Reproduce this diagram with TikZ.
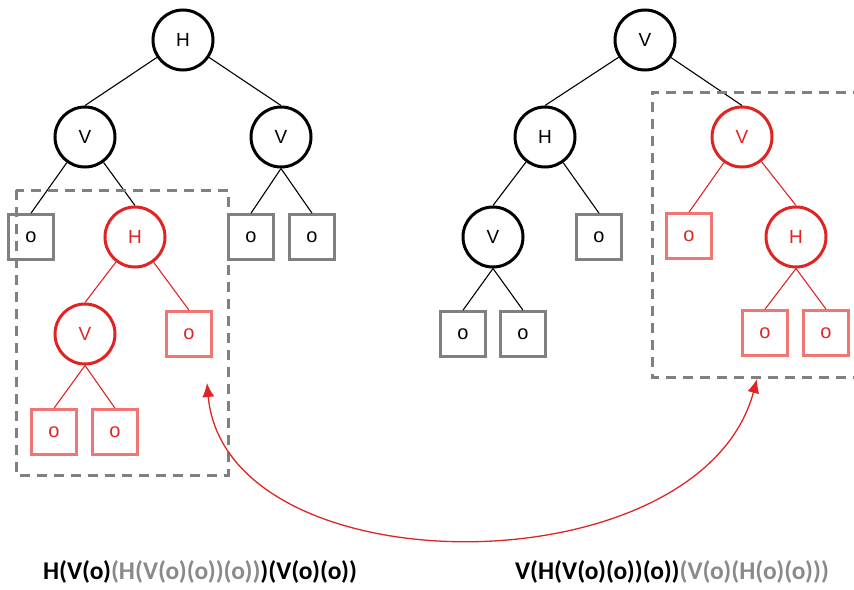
\documentclass[tikz,border=0pt]{standalone}
\usepackage{fontspec}
\setmainfont{Liberation Sans}
\newfontfamily\exprfont{Carlito}
\usepackage{xcolor}
\usepackage{tikz}
\usetikzlibrary{arrows.meta}

\definecolor{cutred}{HTML}{E02424}
\definecolor{leafred}{HTML}{F07575}
\definecolor{boxgray}{HTML}{808080}
\definecolor{txtgray}{HTML}{8A8A8A}

\begin{document}
\begin{tikzpicture}[x=1pt, y=-1pt,
    opnode/.style={circle, draw=black, line width=3pt, minimum size=60pt, inner sep=0pt, font=\fontsize{19}{19}\selectfont},
    redop/.style={opnode, draw=cutred, text=cutred},
    leaf/.style={rectangle, draw=boxgray, line width=2.6pt, minimum size=45pt, inner sep=0pt, font=\fontsize{20}{20}\selectfont},
    redleaf/.style={leaf, draw=leafred, text=cutred},
    edge/.style={line width=1.1pt, draw=black},
    rededge/.style={line width=1.1pt, draw=cutred},
    subtree/.style={draw=boxgray, line width=3pt, dash pattern=on 10pt off 7pt},
    formula/.style={font=\exprfont\bfseries\fontsize{25.5}{25.5}\selectfont}]
                \clip (0,0) rectangle (854,589);
                % left tree
                \node[opnode] (hA) at (183,40) {H};
                \node[opnode] (vA) at (85,137) {V};
                \node[opnode] (vB) at (281,137) {V};
                \node[redop] (hB) at (135,237) {H};
                \node[redop] (vC) at (85,334) {V};
                \foreach \n/\x/\y in {oA/31/237, oB/251/237, oC/312/237}
                \node[leaf] (\n) at (\x,\y) {o};
                \foreach \n/\x/\y in {oD/189/334, oE/54/432, oF/115/432}
                \node[redleaf] (\n) at (\x,\y) {o};
                \draw[edge] (hA) -- (vA.north);
                \draw[edge] (hA) -- (vB.north);
                \draw[edge] (vA) -- (oA.north);
                \draw[edge] (vA) -- (hB.north);
                \draw[edge] (vB.south) -- (oB.north);
                \draw[edge] (vB.south) -- (oC.north);
                \draw[rededge] (hB) -- (vC.north);
                \draw[rededge] (hB) -- (oD.north);
                \draw[rededge] (vC.south) -- (oE.north);
                \draw[rededge] (vC.south) -- (oF.north);
                \draw[subtree] (16,190) rectangle (228,475);
                % right tree
                \node[opnode] (vR) at (645,40) {V};
                \node[opnode] (hR) at (545,137) {H};
                \node[opnode] (vS) at (493,237) {V};
                \node[redop] (vT) at (742,137) {V};
                \node[redop] (hS) at (796,237) {H};
                \foreach \n/\x/\y in {oR/599/237, oS/463/334, oT/523/334}
                \node[leaf] (\n) at (\x,\y) {o};
                \foreach \n/\x/\y in {oU/689/236, oV/765/333, oW/826/333}
                \node[redleaf] (\n) at (\x,\y) {o};
                \draw[edge] (vR) -- (hR.north);
                \draw[edge] (vR) -- (vT.north);
                \draw[edge] (hR) -- (vS.north);
                \draw[edge] (hR) -- (oR.north);
                \draw[edge] (vS.south) -- (oS.north);
                \draw[edge] (vS.south) -- (oT.north);
                \draw[rededge] (vT) -- (oU.north);
                \draw[rededge] (vT) -- (hS.north);
                \draw[rededge] (hS.south) -- (oV.north);
                \draw[rededge] (hS.south) -- (oW.north);
                \draw[subtree] (880,92) -- (652,92) -- (652,377) -- (880,377);
                % swap arrow
                \coordinate (swapL) at (207,383);
                \coordinate (swapR) at (757,379);
                \draw[cutred, line width=1.3pt, {Latex[length=14pt,width=12pt]}-{Latex[length=14pt,width=12pt]}]
                    (swapL) .. controls (226,591) and (700,591) .. (swapR);
                % expressions
                \node[formula] (exprL) at (200,572) {H(V(o)\textcolor{txtgray}{(H(V(o)(o))(o))})(V(o)(o))};
                \node[formula] (exprR) at (672,572) {V(H(V(o)(o))(o))\textcolor{txtgray}{(V(o)(H(o)(o)))}};
            \end{tikzpicture}
\end{document}
